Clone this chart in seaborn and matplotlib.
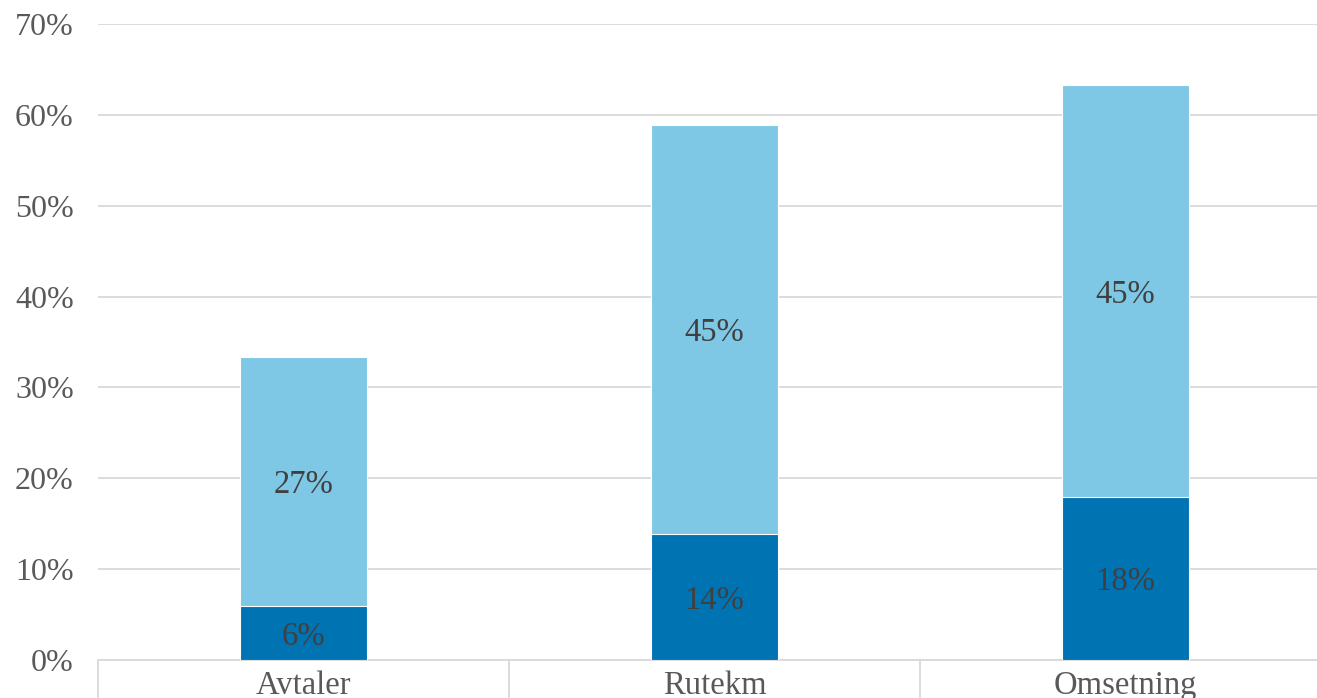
import matplotlib
matplotlib.use("Agg")
import matplotlib.pyplot as plt
import seaborn as sns
import pandas as pd
from matplotlib.ticker import FuncFormatter, FixedLocator

categories = ["Avtaler", "Rutekm", "Omsetning"]
bottom_vals = [5.9, 13.9, 17.9]
top_vals = [27.5, 45.0, 45.4]
bottom_labels = ["6%", "14%", "18%"]
top_labels = ["27%", "45%", "45%"]

sns.set_theme(style="white")
plt.rcParams['font.family'] = ['Liberation Serif', 'DejaVu Serif']

df = pd.DataFrame({
    "cat": categories,
    "bottom": bottom_vals,
    "total": [b + t for b, t in zip(bottom_vals, top_vals)],
})

fig = plt.figure(figsize=(13.17, 6.98), dpi=100)
ax = fig.add_axes([98/1317, (698-660)/698, (1331-98)/1317, (660-24)/698])

light = "#7ec8e5"
dark = "#0073b3"
sns.barplot(data=df, x="cat", y="total", color=light, saturation=1, width=0.31,
            edgecolor="white", linewidth=0.8, ax=ax, zorder=3)
sns.barplot(data=df, x="cat", y="bottom", color=dark, saturation=1, width=0.31,
            edgecolor="white", linewidth=0.8, ax=ax, zorder=4)

for i in range(len(categories)):
    b = bottom_vals[i]
    t = top_vals[i]
    ax.text(i, b / 2, bottom_labels[i], ha="center", va="center_baseline",
            fontsize=23.5, color="#404040", zorder=5)
    ax.text(i, b + t / 2, top_labels[i], ha="center", va="center_baseline",
            fontsize=23.5, color="#404040", zorder=5)

ax.set_ylim(0, 70)
ax.set_xlim(-0.5, 2.5)
ax.set_yticks(range(0, 71, 10))
ax.yaxis.set_major_formatter(FuncFormatter(lambda v, p: f"{int(v)}%"))
ax.grid(axis="y", color="#d9d9d9", linewidth=1.3, zorder=0)
ax.grid(axis="x", visible=False)
ax.set_axisbelow(True)
for s in ["left", "right", "top"]:
    ax.spines[s].set_visible(False)
ax.spines["bottom"].set_color("#d9d9d9")
ax.spines["bottom"].set_linewidth(1.3)

ax.tick_params(axis="y", length=0, pad=17.5, labelsize=23, labelcolor="#595959")
ax.tick_params(axis="x", which="major", length=0, pad=7.5, labelsize=23.5, labelcolor="#595959")
ax.xaxis.set_minor_locator(FixedLocator([-0.5, 0.5, 1.5, 2.5]))
ax.tick_params(axis="x", which="minor", bottom=True, length=40, width=1.3,
               color="#d9d9d9", direction="out")
ax.set_xlabel("")
ax.set_ylabel("")

fig.savefig("out.png", dpi=100)
